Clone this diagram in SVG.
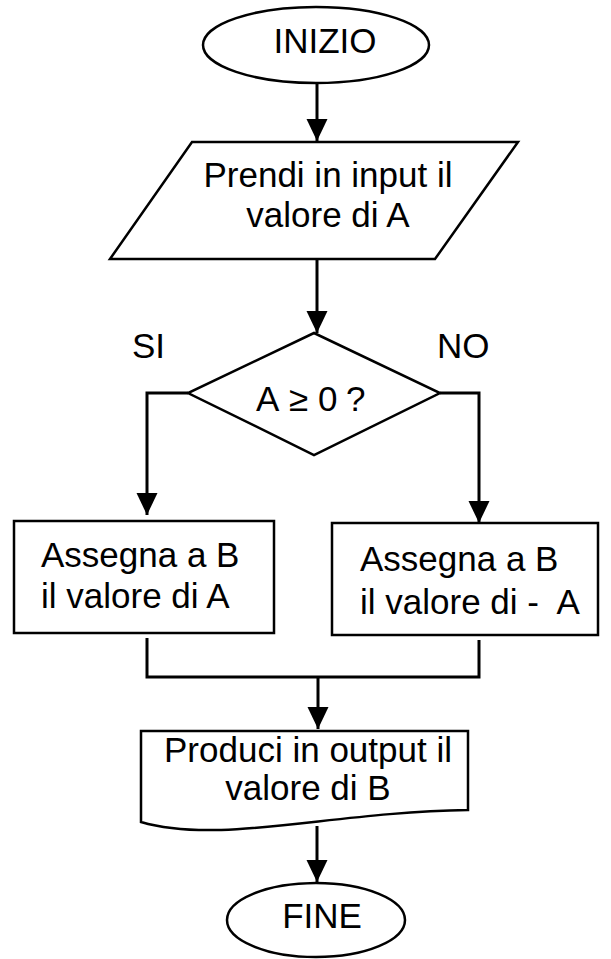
<svg xmlns="http://www.w3.org/2000/svg" width="611" height="959" viewBox="0 0 611 959">
  <style>
    .shape { fill: #ffffff; stroke: #000000; stroke-width: 2.5; }
    .wire { fill: none; stroke: #000000; stroke-width: 3; }
    .lbl { font-family: "Liberation Sans", Arial, sans-serif; font-size: 35px; fill: #000000; }
    .mid { text-anchor: middle; }
  </style>
  <defs>
    <marker id="arrow" markerUnits="userSpaceOnUse" markerWidth="22" markerHeight="22" refX="22" refY="10.5" orient="auto">
      <path d="M0,0 L22,10.5 L0,21 z" fill="#000000"/>
    </marker>
  </defs>

  <!-- connectors -->
  <g id="connectors">
    <line class="wire" x1="317" y1="83" x2="317" y2="141" marker-end="url(#arrow)"/>
    <line class="wire" x1="317" y1="260" x2="317" y2="333" marker-end="url(#arrow)"/>
    <polyline class="wire" points="188,393 147,393 147,515" marker-end="url(#arrow)"/>
    <polyline class="wire" points="440,393 479,393 479,523" marker-end="url(#arrow)"/>
    <polyline class="wire" points="147,638 147,677 479,677 479,640"/>
    <line class="wire" x1="318" y1="677" x2="318" y2="729" marker-end="url(#arrow)"/>
    <line class="wire" x1="317" y1="826" x2="317" y2="882" marker-end="url(#arrow)"/>
  </g>

  <g id="start">
    <ellipse class="shape" cx="316" cy="45" rx="113" ry="38"/>
    <text class="lbl mid" x="325" y="53">INIZIO</text>
  </g>

  <g id="input">
    <polygon class="shape" points="192,142 518,142 435,259 110,259"/>
    <text class="lbl mid" x="328" y="187">Prendi in input il</text>
    <text class="lbl mid" x="328" y="227">valore di A</text>
  </g>

  <g id="decision">
    <polygon class="shape" points="314,333 440,393 314,455 188,393"/>
    <text class="lbl" x="256" y="411">A</text>
    <text class="lbl" x="289" y="411" font-size="27">≥</text>
    <text class="lbl" x="318" y="411">0</text>
    <text class="lbl" x="346" y="411">?</text>
  </g>

  <g id="label-yes">
    <text class="lbl" x="132" y="358">SI</text>
  </g>
  <g id="label-no">
    <text class="lbl" x="437" y="358">NO</text>
  </g>

  <g id="assign-pos">
    <rect class="shape" x="14" y="521" width="260" height="112"/>
    <text class="lbl" x="41" y="567">Assegna a B</text>
    <text class="lbl" x="41" y="608">il valore di A</text>
  </g>

  <g id="assign-neg">
    <rect class="shape" x="332" y="523" width="266" height="112"/>
    <text class="lbl" x="360" y="571">Assegna a B</text>
    <text class="lbl" x="360" y="614" xml:space="preserve">il valore di -  A</text>
  </g>

  <g id="output">
    <path class="shape" d="M141,731 L468,731 L468,810 C330,812 220,845 141,822 Z"/>
    <text class="lbl mid" x="308" y="762">Produci in output il</text>
    <text class="lbl mid" x="308" y="800">valore di B</text>
  </g>

  <g id="end">
    <ellipse class="shape" cx="316" cy="920" rx="89" ry="37"/>
    <text class="lbl mid" x="322" y="928">FINE</text>
  </g>
</svg>
